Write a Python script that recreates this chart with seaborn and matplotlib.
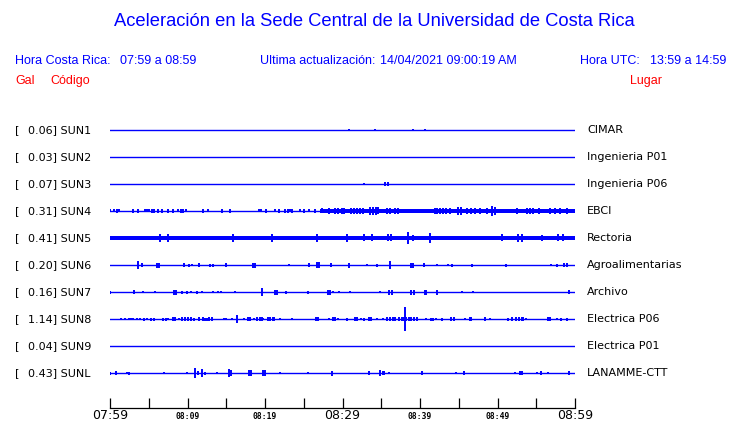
import numpy as np
import pandas as pd
import matplotlib
matplotlib.use("Agg")
import matplotlib.pyplot as plt
import seaborn as sns

# ---------------- data ----------------
stations = ["SUN1", "SUN2", "SUN3", "SUN4", "SUN5", "SUN6", "SUN7", "SUN8", "SUN9", "SUNL"]
peaks_gal = [0.06, 0.03, 0.07, 0.31, 0.41, 0.20, 0.16, 1.14, 0.04, 0.43]
places = ["CIMAR", "Ingenieria P01", "Ingenieria P06", "EBCI", "Rectoria",
          "Agroalimentarias", "Archivo", "Electrica P06", "Electrica P01", "LANAMME-CTT"]

tick_minutes = [0, 5, 10, 15, 20, 25, 30, 35, 40, 45, 50, 55, 60]
tick_labels = ["07:59", "", "08:09", "", "08:19", "", "08:29", "", "08:39", "", "08:49", "", "08:59"]
big_ticks = ["07:59", "08:29", "08:59"]

# spike events: minutes after 07:59, half amplitude (px)
sun1_t = [30.8, 34.2, 39.1, 40.6]
sun1_a = [1.2, 1.2, 1.2, 1.2]
sun2_t = []
sun2_a = []
sun3_t = [32.8, 35.5, 35.9]
sun3_a = [1.0, 1.8, 1.8]
sun4_t = [0.0, 0.5, 0.9, 1.2, 3.0, 3.6, 4.5, 4.8, 5.0, 5.4, 5.7, 6.2, 6.7, 7.5, 8.1, 8.8, 9.2,
          9.4, 9.8, 12.0, 12.6, 14.5, 15.5, 19.2, 19.5, 20.1, 21.3, 21.8, 22.6, 23.0, 23.2, 23.5,
          24.5, 25.0, 25.7, 26.5, 27.4, 28.3, 29.0, 29.4, 29.9, 30.2, 31.1, 31.5, 31.9, 32.3,
          32.6, 33.5, 33.9, 34.3, 34.6, 35.7, 36.1, 36.8, 37.2, 41.9, 42.2, 42.6, 43.0, 43.4,
          43.9, 44.9, 45.3, 46.1, 46.6, 47.1, 47.7, 48.6, 49.3, 49.7, 52.5, 53.8, 54.2, 54.6,
          55.4, 56.8, 57.4, 58.1, 59.0]
sun4_a = [1.5, 1.5, 2.0, 1.5, 2.0, 2.0, 1.5, 1.5, 1.5, 2.0, 2.0, 2.0, 2.0, 2.0, 2.0, 1.5, 2.0,
          2.0, 1.5, 2.0, 1.5, 2.0, 2.0, 1.5, 1.5, 2.0, 1.5, 2.0, 2.0, 2.0, 1.5, 2.0,
          1.5, 2.0, 1.5, 2.0, 2.5, 3.0, 3.0, 3.0, 3.0, 3.0, 3.0, 3.0, 3.0, 3.0,
          3.0, 4.0, 4.0, 4.0, 3.5, 3.0, 3.0, 3.0, 3.0, 3.0, 3.0, 3.0, 3.0, 3.0,
          3.0, 4.0, 4.0, 3.0, 3.0, 3.0, 3.0, 3.0, 5.0, 4.0, 3.0, 3.0, 3.0, 3.0,
          3.0, 3.0, 3.0, 3.0, 3.0]
sun5_t = [6.5, 7.5, 15.9, 20.9, 26.7, 30.6, 32.8, 33.8, 35.9, 36.3, 38.5, 39.1, 41.3, 50.6,
          52.6, 53.2, 55.7, 57.8, 58.5]
sun5_a = [4.0, 4.0, 4.0, 4.0, 4.0, 4.0, 3.5, 3.5, 3.5, 3.5, 6.0, 3.0, 5.0, 3.5,
          4.0, 4.0, 3.0, 3.5, 3.5]
sun6_t = [3.6, 4.1, 6.1, 6.3, 9.5, 10.2, 10.6, 11.5, 12.9, 13.3, 15.0, 18.5, 18.7, 23.1, 25.7,
          26.7, 27.0, 28.5, 30.8, 33.2, 34.5, 36.1, 38.8, 39.1, 40.5, 42.2, 43.6, 44.1, 46.7,
          51.1, 56.9, 57.7, 58.6, 59.0]
sun6_a = [4.0, 2.0, 2.5, 2.5, 2.0, 1.5, 1.0, 2.0, 1.5, 1.5, 2.0, 2.5, 2.5, 1.0, 2.0,
          3.0, 3.0, 2.0, 2.5, 1.0, 1.5, 4.0, 2.5, 2.5, 2.0, 1.0, 1.0, 1.5, 1.5,
          1.5, 1.0, 1.5, 2.0, 2.0]
sun7_t = [0.0, 3.1, 4.3, 5.8, 8.3, 8.5, 9.3, 9.9, 10.5, 11.2, 11.9, 13.3, 13.9, 14.3, 16.1,
          19.6, 21.3, 21.5, 22.7, 25.5, 28.1, 28.4, 28.8, 29.5, 31.0, 34.8, 36.0, 36.4, 38.8,
          39.2, 40.6, 40.8, 42.2, 45.4, 46.8, 59.2]
sun7_a = [1.5, 2.0, 1.0, 1.0, 2.5, 2.5, 1.5, 1.5, 1.0, 1.5, 1.0, 1.0, 1.0, 1.0, 1.0,
          4.0, 2.5, 2.5, 1.5, 1.5, 2.5, 2.5, 1.0, 1.0, 1.0, 1.0, 2.5, 2.5, 2.5,
          2.5, 2.5, 2.5, 2.5, 1.0, 1.0, 2.0]
sun8_t = [1.4, 1.9, 2.5, 2.7, 3.0, 3.5, 3.9, 4.4, 4.8, 5.3, 5.7, 6.8, 7.2, 7.5, 8.1, 8.4, 8.9,
          9.3, 9.7, 10.1, 10.5, 10.8, 11.5, 12.0, 12.3, 12.5, 12.8, 13.2, 14.7, 15.0, 15.7,
          16.4, 17.3, 17.8, 18.1, 18.6, 19.0, 19.3, 19.6, 19.7, 20.4, 20.6, 21.0, 21.2, 21.9,
          23.5, 26.6, 26.8, 28.3, 28.8, 29.0, 29.4, 30.6, 31.6, 31.9, 32.4, 32.8, 33.4, 33.7,
          34.5, 35.2, 35.7, 36.1, 36.5, 36.8, 37.3, 37.7, 37.9, 38.1, 38.2, 38.6, 38.8, 39.2,
          39.6, 40.8, 41.4, 41.7, 42.1, 42.8, 44.0, 44.4, 45.8, 46.5, 46.6, 48.4, 49.0, 51.4,
          51.9, 52.4, 52.8, 53.2, 53.3, 53.7, 56.5, 56.8, 57.7, 58.2, 59.0]
sun8_a = [1.0, 1.0, 1.0, 1.0, 1.0, 1.0, 1.0, 1.5, 1.0, 1.5, 1.5, 1.5, 1.5, 1.0, 2.0, 2.0, 1.0,
          2.0, 2.0, 2.0, 2.0, 1.5, 2.0, 2.0, 1.5, 1.5, 2.0, 2.0, 1.0, 1.0, 1.0,
          4.0, 1.0, 2.0, 2.0, 1.0, 2.0, 2.0, 2.0, 1.0, 2.0, 2.0, 2.0, 2.0, 1.0,
          1.0, 2.0, 2.0, 1.0, 2.0, 2.0, 1.0, 1.5, 2.0, 2.0, 1.0, 1.5, 2.0, 2.0,
          1.0, 1.0, 2.0, 2.0, 2.0, 2.0, 2.0, 2.0, 2.0, 12.0, 2.0, 2.0, 2.0, 2.0,
          2.0, 1.0, 1.5, 1.5, 1.0, 1.5, 2.0, 2.0, 1.0, 2.0, 2.0, 2.0, 1.0, 1.5,
          2.0, 2.0, 2.0, 2.0, 2.0, 1.0, 2.0, 2.0, 1.0, 1.5, 1.5]
sun9_t = []
sun9_a = []
sunl_t = [0.0, 0.8, 2.2, 2.5, 7.0, 9.9, 11.0, 11.4, 11.9, 12.3, 13.8, 15.4, 15.6, 17.9, 18.2,
          19.7, 20.0, 21.9, 25.5, 28.6, 33.4, 34.8, 35.2, 35.4, 36.0, 40.3, 44.6, 45.7, 52.3,
          52.9, 53.2, 55.1, 55.6, 56.5, 59.2]
sunl_a = [1.5, 2.0, 1.0, 1.5, 1.0, 1.0, 5.0, 2.0, 4.0, 1.5, 1.0, 4.0, 3.0, 3.0, 3.0,
          3.0, 3.0, 1.0, 1.0, 2.5, 2.0, 3.0, 2.0, 2.0, 1.0, 2.0, 1.0, 2.0, 1.0,
          2.0, 2.0, 1.0, 2.0, 1.0, 2.0]

# continuous noise bands: (start min, end min, half amplitude px)
sun4_band = (27.1, 60.0, 1.7)
sun5_band = (0.0, 60.0, 1.8)

spike_times = [sun1_t, sun2_t, sun3_t, sun4_t, sun5_t, sun6_t, sun7_t, sun8_t, sun9_t, sunl_t]
spike_amps = [sun1_a, sun2_a, sun3_a, sun4_a, sun5_a, sun6_a, sun7_a, sun8_a, sun9_a, sunl_a]
bands = {3: sun4_band, 4: sun5_band}

# ---------------- figure ----------------
W, H = 740, 423
BLUE = "#0000FF"
RED = "#FF0000"
PX = 27.0  # pixels between traces

fig = plt.figure(figsize=(W / 100, H / 100), dpi=100)
fig.patch.set_facecolor("white")
ax = fig.add_axes([110 / W, (H - 408) / H, 465 / W, (408 - 115) / H])

# baselines via seaborn
rows = []
for i, s in enumerate(stations):
    rows.append({"t": 0.0, "y": i, "station": s})
    rows.append({"t": 60.0, "y": i, "station": s})
df = pd.DataFrame(rows)
sns.lineplot(data=df, x="t", y="y", units="station", estimator=None, color=BLUE,
             lw=1.0, ax=ax, legend=False)

for i in range(len(stations)):
    if i in bands:
        t0, t1, a = bands[i]
        ax.fill_between([t0, t1], [i - a / PX] * 2, [i + a / PX] * 2, color=BLUE, lw=0)
    t = np.array(spike_times[i], dtype=float)
    a = np.array(spike_amps[i], dtype=float) / PX
    if len(t):
        ax.vlines(t, i - a, i + a, color=BLUE, lw=1.4)

ax.set_xlim(0, 60)
ax.set_ylim((408 - 130) / PX, -(130 - 115) / PX)
for sp in ["left", "right", "top"]:
    ax.spines[sp].set_visible(False)
ax.spines["bottom"].set_linewidth(0.9)
ax.spines["bottom"].set_color("black")
ax.set_yticks([])
ax.set_xlabel("")
ax.set_ylabel("")
ax.set_xticks(tick_minutes)
ax.set_xticklabels(tick_labels)
ax.tick_params(axis="x", direction="in", length=7.5, width=0.9, color="black", pad=1.0)
for lab in ax.get_xticklabels():
    if lab.get_text() in big_ticks:
        lab.set_fontsize(9)
        lab.set_family("DejaVu Sans")
    else:
        lab.set_fontsize(5.8)
        lab.set_family("DejaVu Sans Mono")
        lab.set_fontweight("bold")
        lab.set_y(-0.008)


def ftext(x, y, s, **kw):
    fig.text(x / W, 1 - y / H, s, va="center", **kw)


ftext(374, 22, "Aceleración en la Sede Central de la Universidad de Costa Rica",
      ha="center", color=BLUE, fontsize=13.2, family="Liberation Sans")
hdr = dict(color=BLUE, fontsize=9, family="Liberation Sans")
ftext(15, 61, "Hora Costa Rica:", **hdr)
ftext(120, 61, "07:59 a 08:59", **hdr)
ftext(260.5, 61, "Ultima actualización:", **hdr)
ftext(380.5, 61, "14/04/2021 09:00:19 AM", **hdr)
ftext(580.5, 61, "Hora UTC:", **hdr)
ftext(650.5, 61, "13:59 a 14:59", **hdr)
red = dict(color=RED, fontsize=9, family="Liberation Sans")
ftext(15, 81, "Gal", **red)
ftext(50, 81, "Código", **red)
ftext(630, 81, "Lugar", **red)

for i, (s, g, p) in enumerate(zip(stations, peaks_gal, places)):
    y = 130 + PX * i
    ftext(15, y, "[", color="black", fontsize=8, family="DejaVu Sans")
    ftext(27.5, y, f"{g:.2f}] {s}", color="black", fontsize=8, family="DejaVu Sans")
    ftext(587, y, p, color="black", fontsize=8, family="DejaVu Sans")

fig.savefig("out.png", dpi=100, facecolor="white")
